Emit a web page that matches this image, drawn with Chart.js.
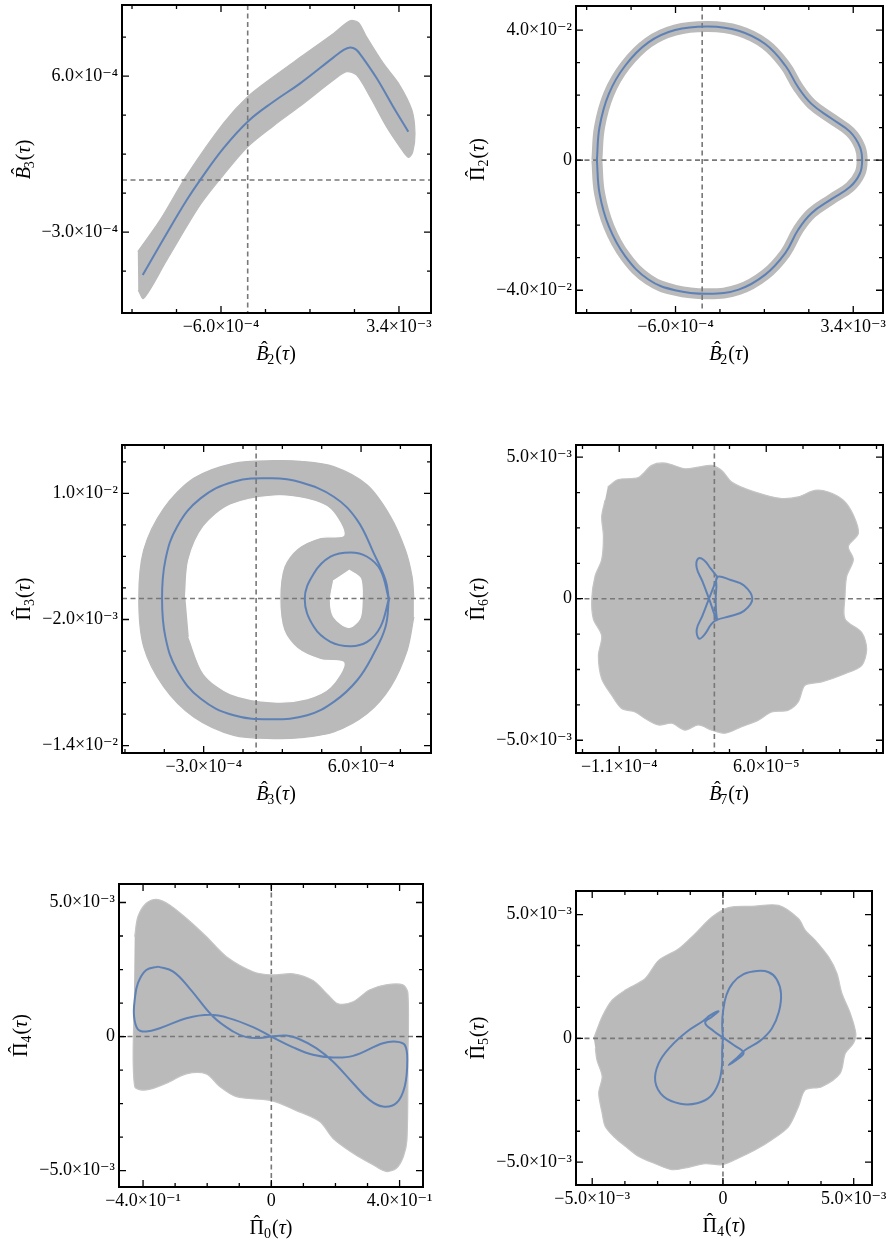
<!DOCTYPE html>
<html>
<head>
<meta charset="utf-8">
<script src="https://cdn.jsdelivr.net/npm/chart.js@4.4.1/dist/chart.umd.min.js"></script>
<style>
  body { margin: 0; background: #fff; }
  #page { position: relative; width: 890px; height: 1244px; overflow: hidden; }
  #page canvas { position: absolute; }
</style>
</head>
<body>
<div id="page"></div>
<script>
// ---- data ----
const ZERO = 0;

// panel 1: B3 vs B2
const p1Orbit = [[-2.36e-3,-5.48e-4],[-1.82e-3,-3.08e-4],[-1.37e-3,-1.15e-4],[-1.07e-3,0],[-5.47e-4,1.83e-4],[0,3.37e-4],[5.77e-4,4.52e-4],[1.18e-3,5.58e-4],[1.93e-3,7.08e-4],[2.15e-3,7.50e-4],[2.30e-3,7.65e-4],[2.43e-3,7.54e-4],[2.56e-3,7.15e-4],[2.90e-3,5.87e-4],[3.27e-3,4.23e-4],[3.61e-3,2.79e-4]];
const p1Band = [[-2.47e-3,-4.13e-4],[-1.97e-3,-2.31e-4],[-1.37e-3,0.27e-4],[-5.47e-4,3.27e-4],[0,4.81e-4],[5.77e-4,5.96e-4],[1.18e-3,7.08e-4],[1.93e-3,8.46e-4],[2.30e-3,9.19e-4],[2.49e-3,9.08e-4],[2.67e-3,8.27e-4],[3.05e-3,6.73e-4],[3.39e-3,5.58e-4],[3.69e-3,4.04e-4],[3.76e-3,2.69e-4],[3.71e-3,1.63e-4],[3.61e-3,1.31e-4],[3.42e-3,1.92e-4],[3.12e-3,3.08e-4],[2.75e-3,4.81e-4],[2.45e-3,6.06e-4],[2.22e-3,6.25e-4],[1.93e-3,5.77e-4],[1.18e-3,4.27e-4],[5.77e-4,3.12e-4],[0,1.92e-4],[-5.47e-4,0.29e-4],[-1.07e-3,-1.44e-4],[-1.82e-3,-4.62e-4],[-2.34e-3,-6.83e-4],[-2.46e-3,-6.35e-4]];
const p1XTicks = [-6.0e-4, 3.4e-3];
const p1XLabels = ['−6.0×10⁻⁴', '3.4×10⁻³'];
const p1XMinor = [-2.6e-3, -1.6e-3, 4e-4, 1.4e-3, 2.4e-3];
const p1YTicks = [-3.0e-4, 6.0e-4];
const p1YLabels = ['−3.0×10⁻⁴', '6.0×10⁻⁴'];
const p1YMinor = [-5.25e-4, -0.75e-4, 1.5e-4, 3.75e-4, 8.25e-4];

// panel 2: Pi2 vs B2
const p2Orbit = [[-2.37e-3,0],[-2.31e-3,1.02e-2],[-2.10e-3,2.04e-2],[-1.73e-3,2.91e-2],[-1.21e-3,3.62e-2],[-6.1e-4,4.00e-2],[1.4e-4,4.11e-2],[8.2e-4,3.98e-2],[1.42e-3,3.57e-2],[1.87e-3,2.91e-2],[2.16e-3,2.24e-2],[2.46e-3,1.73e-2],[2.91e-3,1.28e-2],[3.33e-3,8.7e-3],[3.55e-3,4.1e-3],[3.60e-3,0],[3.55e-3,-4.1e-3],[3.33e-3,-8.2e-3],[2.91e-3,-1.20e-2],[2.46e-3,-1.63e-2],[2.16e-3,-2.14e-2],[1.87e-3,-2.86e-2],[1.42e-3,-3.52e-2],[8.2e-4,-3.98e-2],[1.4e-4,-4.11e-2],[-6.1e-4,-4.00e-2],[-1.21e-3,-3.67e-2],[-1.73e-3,-2.96e-2],[-2.10e-3,-2.04e-2],[-2.31e-3,-1.02e-2],[-2.37e-3,0]];
const p2YTicks = [-4.0e-2, 0, 4.0e-2];
const p2YLabels = ['−4.0×10⁻²', '0', '4.0×10⁻²'];
const p2YMinor = [-3e-2, -2e-2, -1e-2, 1e-2, 2e-2, 3e-2];

// panel 3: Pi3 vs B3
const p3OrbitOuter = [[7.59e-4,-0.06e-3],[7.40e-4,1.75e-3],[6.73e-4,4.29e-3],[5.78e-4,7.46e-3],[4.44e-4,9.68e-3],[2.54e-4,1.105e-2],[0.92e-4,1.143e-2],[-1.28e-4,1.111e-2],[-3.18e-4,9.52e-3],[-4.52e-4,6.83e-3],[-5.19e-4,3.65e-3],[-5.38e-4,0],[-5.19e-4,-3.65e-3],[-4.52e-4,-6.83e-3],[-3.18e-4,-9.52e-3],[-1.28e-4,-1.111e-2],[0.92e-4,-1.149e-2],[2.92e-4,-1.111e-2],[4.44e-4,-9.84e-3],[5.78e-4,-7.78e-3],[6.73e-4,-5.24e-3],[7.40e-4,-2.70e-3],[7.59e-4,-0.06e-3]];
const p3OrbitInner = [[7.59e-4,-0.06e-3],[7.11e-4,2.70e-3],[6.35e-4,3.97e-3],[5.40e-4,4.38e-3],[4.25e-4,3.97e-3],[3.30e-4,2.38e-3],[2.78e-4,-0.06e-3],[3.30e-4,-2.70e-3],[4.25e-4,-4.13e-3],[5.40e-4,-4.54e-3],[6.35e-4,-4.13e-3],[7.11e-4,-2.70e-3],[7.59e-4,-0.06e-3]];
const p3Ring = [[9.02e-4,0],[8.92e-4,2.06e-3],[8.54e-4,4.60e-3],[7.69e-4,7.78e-3],[6.35e-4,1.079e-2],[4.44e-4,1.254e-2],[2.54e-4,1.305e-2],[1.01e-4,1.311e-2],[-1.28e-4,1.286e-2],[-3.57e-4,1.143e-2],[-5.28e-4,8.57e-3],[-6.43e-4,4.60e-3],[-6.71e-4,0],[-6.43e-4,-4.60e-3],[-5.28e-4,-8.41e-3],[-3.57e-4,-1.127e-2],[-1.28e-4,-1.302e-2],[1.01e-4,-1.333e-2],[2.54e-4,-1.324e-2],[4.44e-4,-1.270e-2],[6.35e-4,-1.095e-2],[7.69e-4,-8.41e-3],[8.64e-4,-4.92e-3],[9.02e-4,-1.75e-3]];
const p3Gap = [[-4.04e-4,0],[-3.85e-4,3.65e-3],[-2.99e-4,6.83e-3],[-1.47e-4,8.89e-3],[1.01e-4,9.75e-3],[2.92e-4,9.43e-3],[4.25e-4,8.48e-3],[5.02e-4,6.03e-3],[3.68e-4,5.81e-3],[2.35e-4,4.76e-3],[1.58e-4,3.02e-3],[1.35e-4,0],[1.58e-4,-3.02e-3],[2.35e-4,-4.76e-3],[3.68e-4,-5.81e-3],[5.02e-4,-6.13e-3],[4.25e-4,-8.41e-3],[2.92e-4,-9.52e-3],[1.01e-4,-9.84e-3],[-1.47e-4,-9.05e-3],[-2.99e-4,-7.14e-3],[-3.85e-4,-3.65e-3]];
const p3Hole = [[5.30e-4,2.70e-3],[5.97e-4,1.90e-3],[6.06e-4,-0.16e-3],[5.93e-4,-1.90e-3],[5.30e-4,-2.76e-3],[4.44e-4,-1.75e-3],[4.25e-4,-0.16e-3],[4.44e-4,1.75e-3]];
const p3XTicks = [-3.0e-4, 6.0e-4];
const p3XLabels = ['−3.0×10⁻⁴', '6.0×10⁻⁴'];
const p3XMinor = [-7.5e-4, -5.25e-4, -0.75e-4, 1.5e-4, 3.75e-4, 8.25e-4];
const p3YTicks = [-1.4e-2, -2.0e-3, 1.0e-2];
const p3YLabels = ['−1.4×10⁻²', '−2.0×10⁻³', '1.0×10⁻²'];
const p3YMinor = [-1.1e-2, -8e-3, -5e-3, 1e-3, 4e-3, 7e-3, 1.3e-2];

// panel 4: Pi6 vs B7
const p4Orbit = [[0.35e-5,0.77e-3],[-0.62e-5,0],[-1.39e-5,-0.61e-3],[-2.04e-5,-1.08e-3],[-1.77e-5,-1.41e-3],[-1.12e-5,-1.26e-3],[-0.35e-5,-0.90e-3],[0.27e-5,-0.75e-3],[1.89e-5,-0.61e-3],[3.43e-5,-0.43e-3],[4.39e-5,0],[3.43e-5,0.47e-3],[1.89e-5,0.66e-3],[0.35e-5,0.77e-3],[0.23e-5,0.39e-3],[0.15e-5,0],[0.19e-5,-0.43e-3],[0.27e-5,-0.75e-3],[-0.62e-5,0],[-1.39e-5,0.62e-3],[-2.04e-5,1.09e-3],[-1.89e-5,1.41e-3],[-1.19e-5,1.36e-3],[-0.42e-5,1.06e-3],[0.35e-5,0.77e-3]];
const p4Cloud = [[-12.33e-5,3.95e-3],[-11.10e-5,4.21e-3],[-8.79e-5,4.28e-3],[-7.24e-5,4.71e-3],[-5.70e-5,4.79e-3],[-3.39e-5,4.59e-3],[-1.85e-5,4.65e-3],[-0.31e-5,4.71e-3],[0.85e-5,4.53e-3],[2.00e-5,4.12e-3],[3.55e-5,3.89e-3],[5.86e-5,3.66e-3],[7.78e-5,3.54e-3],[9.71e-5,3.60e-3],[11.64e-5,3.83e-3],[13.18e-5,3.77e-3],[14.91e-5,3.48e-3],[16.07e-5,2.96e-3],[16.65e-5,2.31e-3],[15.49e-5,1.85e-3],[16.07e-5,1.38e-3],[15.30e-5,0.79e-3],[15.11e-5,0.09e-3],[15.11e-5,-0.72e-3],[17.03e-5,-1.19e-3],[17.61e-5,-1.78e-3],[17.03e-5,-2.36e-3],[15.11e-5,-2.65e-3],[12.41e-5,-2.94e-3],[10.48e-5,-3.06e-3],[9.71e-5,-3.64e-3],[8.55e-5,-3.94e-3],[6.63e-5,-4.00e-3],[5.09e-5,-4.29e-3],[3.16e-5,-4.52e-3],[1.23e-5,-4.75e-3],[-0.31e-5,-4.64e-3],[-1.85e-5,-4.46e-3],[-3.39e-5,-4.64e-3],[-4.93e-5,-4.40e-3],[-6.47e-5,-4.46e-3],[-8.02e-5,-4.23e-3],[-9.17e-5,-4.00e-3],[-10.71e-5,-3.88e-3],[-11.87e-5,-3.41e-3],[-13.03e-5,-2.83e-3],[-13.41e-5,-2.01e-3],[-13.03e-5,-1.31e-3],[-13.99e-5,-0.72e-3],[-14.18e-5,-0.02e-3],[-13.80e-5,0.79e-3],[-13.03e-5,1.38e-3],[-12.83e-5,2.20e-3],[-13.03e-5,2.90e-3],[-12.64e-5,3.48e-3]];
const p4XTicks = [-1.1e-4, 6.0e-5];
const p4XLabels = ['−1.1×10⁻⁴', '6.0×10⁻⁵'];
const p4XMinor = [-1.525e-4, -6.75e-5, -2.5e-5, 1.75e-5, 1.025e-4, 1.45e-4, 1.875e-4];
const p5mTicks = [-5.0e-3, 0, 5.0e-3];
const p5mLabels = ['−5.0×10⁻³', '0', '5.0×10⁻³'];
const p5mMinor = [-3.75e-3, -2.5e-3, -1.25e-3, 1.25e-3, 2.5e-3, 3.75e-3];

// panel 5: Pi4 vs Pi0
const p5Orbit = [[-0.353,2.61e-3],[-0.306,2.42e-3],[-0.255,1.80e-3],[-0.182,0.75e-3],[-0.119,0.19e-3],[-0.078,-0.02e-3],[-0.036,-0.05e-3],[0,0],[0.047,0.04e-3],[0.088,-0.10e-3],[0.140,-0.43e-3],[0.192,-0.93e-3],[0.255,-1.74e-3],[0.306,-2.36e-3],[0.348,-2.61e-3],[0.390,-2.48e-3],[0.416,-1.86e-3],[0.424,-0.87e-3],[0.416,-0.31e-3],[0.390,-0.19e-3],[0.348,-0.25e-3],[0.255,-0.72e-3],[0.192,-0.78e-3],[0.130,-0.68e-3],[0.068,-0.40e-3],[0,0],[-0.057,0.35e-3],[-0.130,0.68e-3],[-0.192,0.81e-3],[-0.265,0.68e-3],[-0.348,0.31e-3],[-0.390,0.19e-3],[-0.416,0.27e-3],[-0.428,0.75e-3],[-0.426,1.37e-3],[-0.416,1.99e-3],[-0.390,2.48e-3],[-0.353,2.61e-3]];
const p5Cloud = [[-0.426,3.73e-3],[-0.416,4.47e-3],[-0.390,4.97e-3],[-0.358,5.12e-3],[-0.317,4.91e-3],[-0.265,4.41e-3],[-0.203,3.73e-3],[-0.140,2.98e-3],[-0.057,2.42e-3],[0,2.30e-3],[0.068,2.34e-3],[0.130,2.09e-3],[0.177,1.55e-3],[0.208,1.22e-3],[0.255,1.30e-3],[0.306,1.74e-3],[0.358,1.93e-3],[0.410,1.93e-3],[0.426,1.61e-3],[0.426,-0.87e-3],[0.423,-3.85e-3],[0.412,-4.47e-3],[0.390,-4.91e-3],[0.358,-5.03e-3],[0.317,-4.78e-3],[0.255,-4.35e-3],[0.192,-3.79e-3],[0.151,-3.17e-3],[0.078,-2.76e-3],[0,-2.39e-3],[-0.109,-2.24e-3],[-0.161,-1.86e-3],[-0.203,-1.39e-3],[-0.265,-1.39e-3],[-0.327,-1.74e-3],[-0.390,-1.99e-3],[-0.426,-1.86e-3],[-0.429,0.99e-3]];
const p5XTicks = [-0.4, 0, 0.4];
const p5XLabels = ['−4.0×10⁻¹', '0', '4.0×10⁻¹'];
const p5XMinor = [-0.3, -0.2, -0.1, 0.1, 0.2, 0.3];

// panel 6: Pi5 vs Pi4
const p6Orbit = [[0,0.03e-3],[-0.03e-3,-0.47e-3],[-0.04e-3,-1.14e-3],[-0.17e-3,-1.81e-3],[-0.48e-3,-2.35e-3],[-0.99e-3,-2.62e-3],[-1.63e-3,-2.64e-3],[-2.27e-3,-2.35e-3],[-2.59e-3,-1.74e-3],[-2.46e-3,-1.01e-3],[-2.01e-3,-0.34e-3],[-1.38e-3,0.27e-3],[-0.76e-3,0.70e-3],[-0.48e-3,0.94e-3],[-0.17e-3,1.10e-3],[-0.42e-3,0.87e-3],[-0.68e-3,0.63e-3],[-0.36e-3,0.30e-3],[0,0.03e-3],[0.41e-3,-0.27e-3],[0.79e-3,-0.58e-3],[0.54e-3,-0.85e-3],[0.22e-3,-1.07e-3],[0.51e-3,-0.81e-3],[0.85e-3,-0.47e-3],[1.43e-3,-0.09e-3],[1.87e-3,0.40e-3],[2.14e-3,1.07e-3],[2.22e-3,1.81e-3],[2.06e-3,2.38e-3],[1.75e-3,2.67e-3],[1.30e-3,2.72e-3],[0.79e-3,2.59e-3],[0.38e-3,2.24e-3],[0.13e-3,1.74e-3],[0.01e-3,1.14e-3],[-0.03e-3,0.58e-3],[0,0.03e-3]];
const p6Cloud = [[-4.94e-3,0],[-4.62e-3,0.87e-3],[-4.24e-3,1.54e-3],[-3.73e-3,1.95e-3],[-2.97e-3,2.42e-3],[-2.46e-3,3.15e-3],[-1.69e-3,3.62e-3],[-1.06e-3,4.23e-3],[-0.42e-3,4.90e-3],[0.22e-3,5.28e-3],[1.11e-3,5.33e-3],[2.13e-3,5.37e-3],[2.89e-3,4.83e-3],[3.15e-3,4.36e-3],[3.53e-3,3.96e-3],[4.04e-3,3.29e-3],[4.36e-3,2.62e-3],[4.55e-3,1.81e-3],[4.87e-3,1.01e-3],[5.08e-3,0.20e-3],[4.99e-3,-0.20e-3],[4.68e-3,-0.60e-3],[4.48e-3,-1.41e-3],[3.78e-3,-1.95e-3],[3.15e-3,-2.08e-3],[2.89e-3,-2.75e-3],[2.51e-3,-3.56e-3],[1.87e-3,-4.09e-3],[1.24e-3,-4.50e-3],[0.60e-3,-4.83e-3],[-0.04e-3,-5.10e-3],[-0.68e-3,-5.06e-3],[-1.44e-3,-5.23e-3],[-1.95e-3,-5.30e-3],[-2.59e-3,-5.06e-3],[-3.22e-3,-4.77e-3],[-3.73e-3,-4.36e-3],[-4.18e-3,-3.96e-3],[-4.50e-3,-3.56e-3],[-4.62e-3,-3.02e-3],[-4.75e-3,-2.21e-3],[-4.62e-3,-1.54e-3],[-4.82e-3,-0.87e-3],[-4.88e-3,-0.40e-3]];

// axis titles, one per panel
const xTitles = ['B̂₂(τ)', 'B̂₂(τ)', 'B̂₃(τ)', 'B̂₇(τ)', 'Π̂₀(τ)', 'Π̂₄(τ)'];
const yTitles = ['B̂₃(τ)', 'Π̂₂(τ)', 'Π̂₃(τ)', 'Π̂₆(τ)', 'Π̂₄(τ)', 'Π̂₅(τ)'];

// ---- styling ----
const BLUE = '#5e81b5';
const GRAY = '#bababa';
const FONT = "'Liberation Serif', 'DejaVu Serif', serif";

function pts(a) { return a.map(p => ({x: p[0], y: p[1]})); }

function orbit(a) {
  return {label: 'orbit', data: pts(a), showLine: true, pointRadius: 0, borderColor: BLUE,
          borderWidth: 2, tension: 0.4, fill: false, order: 0};
}
function area(a, color, order, edge) {
  return {label: 'area', data: pts(a), showLine: true, pointRadius: 0, borderColor: edge || color,
          backgroundColor: color, borderWidth: 1.2, tension: 0.3, fill: 'shape', order: order};
}
function tube(a, width) {
  return {label: 'area', data: pts(a), showLine: true, pointRadius: 0, borderColor: GRAY,
          borderWidth: width, borderJoinStyle: 'round', tension: 0.4, fill: false, order: 5};
}

const panels = [
  {frame: [122, 5, 431, 313], x: [-2.825e-3, 4.12e-3], y: [-7.67e-4, 1.01e-3],
   xT: p1XTicks, xL: p1XLabels, xM: p1XMinor, yT: p1YTicks, yL: p1YLabels, yM: p1YMinor,
   datasets: [orbit(p1Orbit), area(p1Band, GRAY, 5)]},
  {frame: [576, 6, 883, 313], x: [-2.84e-3, 4.07e-3], y: [-4.70e-2, 4.74e-2],
   xT: p1XTicks, xL: p1XLabels, xM: p1XMinor, yT: p2YTicks, yL: p2YLabels, yM: p2YMinor,
   datasets: [orbit(p2Orbit), tube(p2Orbit, 11)]},
  {frame: [122, 445, 431, 753], x: [-7.67e-4, 1.0e-3], y: [-1.47e-2, 1.46e-2],
   xT: p3XTicks, xL: p3XLabels, xM: p3XMinor, yT: p3YTicks, yL: p3YLabels, yM: p3YMinor,
   datasets: [orbit(p3OrbitOuter), orbit(p3OrbitInner), area(p3Ring, GRAY, 6),
              area(p3Gap, '#ffffff', 5), area(p3Hole, '#ffffff', 4)]},
  {frame: [576, 445, 883, 753], x: [-1.60e-4, 1.95e-4], y: [-5.45e-3, 5.43e-3],
   xT: p4XTicks, xL: p4XLabels, xM: p4XMinor, yT: p5mTicks, yL: p5mLabels, yM: p5mMinor,
   datasets: [orbit(p4Orbit), area(p4Cloud, GRAY, 5, '#c4c4c4')]},
  {frame: [119, 884, 423, 1187], x: [-0.475, 0.473], y: [-5.61e-3, 5.69e-3],
   xT: p5XTicks, xL: p5XLabels, xM: p5XMinor, yT: p5mTicks, yL: p5mLabels, yM: p5mMinor,
   datasets: [orbit(p5Orbit), area(p5Cloud, GRAY, 5, '#c4c4c4')]},
  {frame: [576, 891, 872, 1185], x: [-5.62e-3, 5.70e-3], y: [-5.92e-3, 5.95e-3],
   xT: p5mTicks, xL: p5mLabels, xM: p5mMinor, yT: p5mTicks, yL: p5mLabels, yM: p5mMinor,
   datasets: [orbit(p6Orbit), area(p6Cloud, GRAY, 5, '#c4c4c4')]}
];

// title like "B̂₂(τ)": hatted letter, lowered subscript, then (τ)
function drawTitle(ctx, text, cx, cy, vertical) {
  const base = text[0];
  const italic = base === 'B';
  const sub = String.fromCharCode(text.charCodeAt(2) - 0x2080 + 48);
  const fBase = (italic ? 'italic ' : '') + '20px ' + FONT;
  const fNorm = '20px ' + FONT, fIt = 'italic 20px ' + FONT, fSub = '14px ' + FONT;
  ctx.save();
  ctx.translate(cx, cy);
  if (vertical) ctx.rotate(-Math.PI / 2);
  ctx.fillStyle = '#000';
  ctx.textBaseline = 'alphabetic';
  ctx.textAlign = 'left';
  const w = (f, s) => { ctx.font = f; return ctx.measureText(s).width; };
  const wb = w(fBase, base), ws = w(fSub, sub), wo = w(fNorm, '('), wt = w(fIt, 'τ'), wc = w(fNorm, ')');
  let x = -(wb + ws + wo + wt + wc + 1) / 2;
  const yb = 6;
  ctx.font = fBase; ctx.fillText(base, x, yb);
  ctx.font = fNorm;
  const wh = ctx.measureText('ˆ').width;
  ctx.fillText('ˆ', x + (wb - wh) / 2 + (italic ? 2 : 0), yb - 4.5);
  x += wb - (italic ? 1 : 0);
  ctx.font = fSub; ctx.fillText(sub, x, yb + 4); x += ws + 1;
  ctx.font = fNorm; ctx.fillText('(', x, yb); x += wo;
  ctx.font = fIt; ctx.fillText('τ', x, yb); x += wt;
  ctx.font = fNorm; ctx.fillText(')', x, yb);
  ctx.restore();
}

// inward ticks on all four sides, frame, dashed zero lines under the orbit, titles
function frameTicks(p, i) {
  return {
    id: 'frameTicks',
    beforeDatasetsDraw(chart) { chart.$zeroDone = false; },
    beforeDatasetDraw(chart, args) {
      if (chart.data.datasets[args.index].label !== 'orbit' || chart.$zeroDone) return;
      chart.$zeroDone = true;
      const {ctx, chartArea: a, scales: {x, y}} = chart;
      const px = x.getPixelForValue(ZERO), py = y.getPixelForValue(ZERO);
      ctx.save();
      ctx.strokeStyle = '#787878';
      ctx.lineWidth = 1.6;
      ctx.setLineDash([5, 3.5]);
      ctx.beginPath();
      ctx.moveTo(px, a.top); ctx.lineTo(px, a.bottom);
      ctx.moveTo(a.left, py); ctx.lineTo(a.right, py);
      ctx.stroke();
      ctx.restore();
    },
    afterDatasetsDraw(chart) {
      const {ctx, chartArea: a, scales: {x, y}} = chart;
      ctx.save();
      ctx.strokeStyle = '#000';
      ctx.lineWidth = 1.3;
      const mark = (axis, vals, len) => vals.forEach(v => {
        const q = axis.getPixelForValue(v);
        ctx.beginPath();
        if (axis === x) {
          ctx.moveTo(q, a.bottom); ctx.lineTo(q, a.bottom - len);
          ctx.moveTo(q, a.top); ctx.lineTo(q, a.top + len);
        } else {
          ctx.moveTo(a.left, q); ctx.lineTo(a.left + len, q);
          ctx.moveTo(a.right, q); ctx.lineTo(a.right - len, q);
        }
        ctx.stroke();
      });
      mark(x, p.xT, 7); mark(x, p.xM, 4);
      mark(y, p.yT, 7); mark(y, p.yM, 4);
      ctx.lineWidth = 2;
      ctx.strokeRect(a.left, a.top, a.right - a.left, a.bottom - a.top);
      ctx.restore();
      drawTitle(ctx, xTitles[i], (a.left + a.right) / 2, a.bottom + 41, false);
      drawTitle(ctx, yTitles[i], a.left - 98, (a.top + a.bottom) / 2, true);
    }
  };
}

function axis(horiz, range, ticks, labels, size) {
  return {
    type: 'linear', position: horiz ? 'bottom' : 'left', min: range[0], max: range[1],
    grid: {display: false, drawTicks: false}, border: {display: false},
    ticks: {autoSkip: false, maxRotation: 0, minRotation: 0, padding: horiz ? 3 : 4, color: '#000',
            font: {family: FONT, size: 18}, callback: (v, i) => labels[i]},
    title: {display: false},
    afterBuildTicks: s => { s.ticks = ticks.map(v => ({value: v})); },
    afterFit: s => {
      if (horiz) s.height = size; else s.width = size;
      s.paddingLeft = s.paddingRight = s.paddingTop = s.paddingBottom = 0;
    }
  };
}

const page = document.getElementById('page');
panels.forEach((p, i) => {
  const [L, T, R, B] = p.frame;
  const padL = 115, padT = 5, padB = 52, padR = i % 2 ? 890 - R : 25;
  const w = R - L + padL + padR, h = B - T + padT + padB;
  const c = document.createElement('canvas');
  c.width = w; c.height = h;
  c.style.left = (L - padL) + 'px'; c.style.top = (T - padT) + 'px';
  c.style.width = w + 'px'; c.style.height = h + 'px';
  page.appendChild(c);
  new Chart(c, {
    type: 'scatter',
    data: {datasets: p.datasets},
    options: {
      responsive: false, animation: false, devicePixelRatio: 1, events: [],
      layout: {padding: {left: 0, top: padT, right: padR, bottom: 0}},
      plugins: {legend: {display: false}, tooltip: {enabled: false}},
      scales: {
        x: axis(true, p.x, p.xT, p.xL, padB),
        y: axis(false, p.y, p.yT, p.yL, padL)
      }
    },
    plugins: [frameTicks(p, i)]
  });
});
</script>
</body>
</html>
